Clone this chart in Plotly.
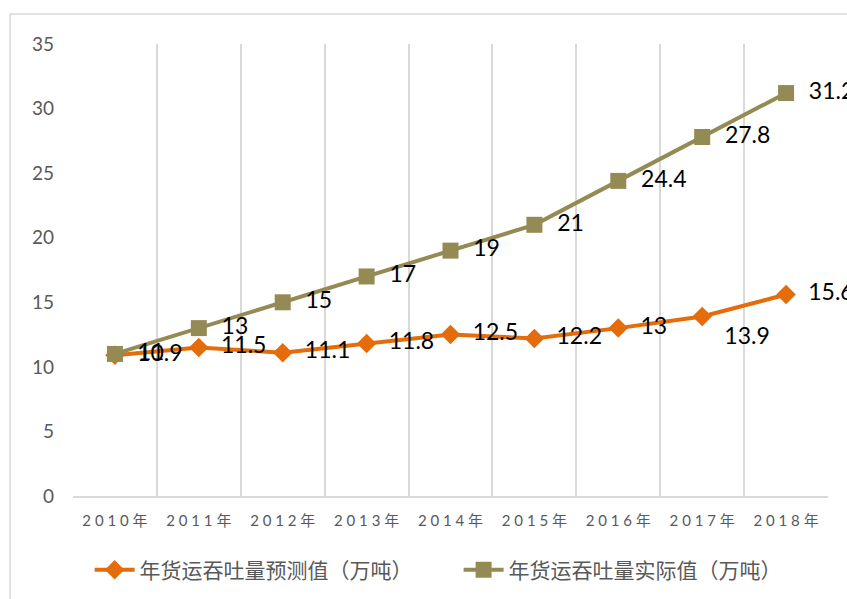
import plotly.graph_objects as go

years = ["2010年", "2011年", "2012年", "2013年", "2014年", "2015年", "2016年", "2017年", "2018年"]
forecast = [10.9, 11.5, 11.1, 11.8, 12.5, 12.2, 13, 13.9, 15.6]
actual = [11, 13, 15, 17, 19, 21, 24.4, 27.8, 31.2]
forecast_name = "年货运吞吐量预测值（万吨）"
actual_name = "年货运吞吐量实际值（万吨）"
y_ticks = [0, 5, 10, 15, 20, 25, 30, 35]

ORANGE = "#E46C0A"
OLIVE = "#948A54"
GRID = "#D9D9D9"
GRAY = "#595959"
FONT = "Lato, Noto Sans CJK SC, sans-serif"

spaced = [" ".join(list(y[:-1])) + " " + y[-1] for y in years]

fc_pos = ["middle right"] * len(years)
fc_pos[7] = "bottom right"

fig = go.Figure()
fig.add_trace(go.Scatter(
    x=years, y=forecast, name=forecast_name, mode="lines+markers+text",
    line=dict(color=ORANGE, width=4),
    marker=dict(symbol="diamond", size=15, color=ORANGE),
    text=[str(v) for v in forecast], texttemplate="  %{text}",
    textposition=fc_pos, textfont=dict(size=23, color="black", family=FONT),
    cliponaxis=False,
))
fig.add_trace(go.Scatter(
    x=years, y=actual, name=actual_name, mode="lines+markers+text",
    line=dict(color=OLIVE, width=4),
    marker=dict(symbol="square", size=16, color=OLIVE),
    text=[str(v) for v in actual], texttemplate="  %{text}",
    textposition="middle right", textfont=dict(size=23, color="black", family=FONT),
    cliponaxis=False,
))

fig.update_layout(
    width=847, height=599,
    margin=dict(l=73, r=19, t=44, b=103, autoexpand=False),
    paper_bgcolor="white", plot_bgcolor="white",
    font=dict(family=FONT, color=GRAY),
    showlegend=True,
    legend=dict(orientation="h", x=0.022, xanchor="left", y=-0.164, yanchor="middle",
                font=dict(size=21, color=GRAY, family="Noto Sans CJK SC, sans-serif"), itemwidth=40,
                traceorder="normal", entrywidth=314),
    xaxis=dict(type="category", tickson="boundaries", showgrid=True, gridcolor=GRID, gridwidth=1.5,
               showline=True, linecolor=GRID, linewidth=1.5, ticks="", automargin=False,
               tickvals=years, ticktext=spaced, tickfont=dict(size=15, color=GRAY, family=FONT),
               ticklabelstandoff=10, range=[-0.5, 8.5]),
    yaxis=dict(range=[0, 35], tickvals=y_ticks, showgrid=False, zeroline=False, showline=False,
               automargin=False,
               tickfont=dict(size=19, color=GRAY, family=FONT), ticklabelstandoff=18),
    shapes=[dict(type="rect", xref="paper", yref="paper", x0=-0.0834, x1=1.5, y0=-0.5, y1=1.0664,
                 line=dict(color=GRID, width=1.5), fillcolor="rgba(0,0,0,0)", layer="below")],
)

fig.write_html("out.html", config={"displayModeBar": False},
               post_script="document.body.style.margin='0px';document.body.style.overflow='hidden';")
